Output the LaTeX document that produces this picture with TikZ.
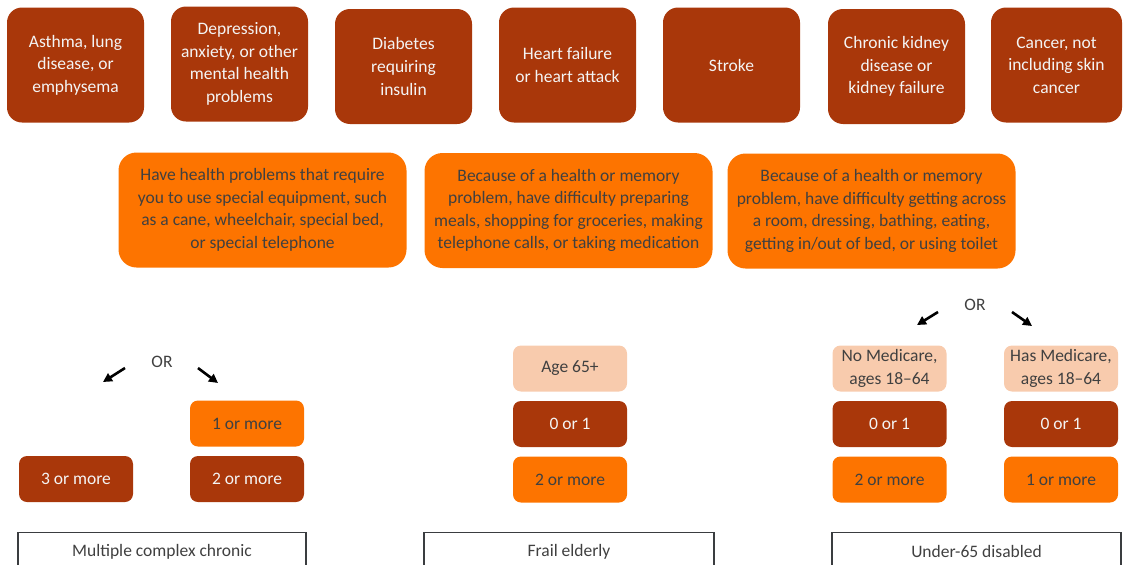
\documentclass[tikz,border=0pt]{standalone}
\usepackage{fontspec}
\setmainfont{Carlito}
\usetikzlibrary{arrows.meta}
\definecolor{darkbox}{HTML}{A9370A}
\definecolor{orangebox}{HTML}{FD7400}
\definecolor{peachbox}{HTML}{F8CBAD}
\definecolor{txtgrey}{HTML}{404040}
\definecolor{txtlight}{HTML}{F4F4F4}
\definecolor{framegrey}{HTML}{3A3D40}
\tikzset{
  every node/.style={font=\fontsize{17.5}{22.6}\selectfont, align=center, inner sep=0pt},
  topbox/.style={fill=darkbox, text=txtlight, rounded corners=15pt, minimum width=137pt, minimum height=115pt},
  midbox/.style={fill=orangebox, text=txtgrey, rounded corners=18pt, minimum width=288pt, minimum height=115pt},
  darksmall/.style={fill=darkbox, text=txtlight, rounded corners=8pt, minimum width=114pt, minimum height=46pt},
  orangesmall/.style={fill=orangebox, text=txtgrey, rounded corners=8pt, minimum width=114pt, minimum height=46pt},
  peachsmall/.style={fill=peachbox, text=txtgrey, rounded corners=8pt, minimum width=114pt, minimum height=46pt},
  groupbox/.style={draw=framegrey, line width=1.4pt, fill=white, text=txtgrey, minimum height=38pt, anchor=north},
  orlabel/.style={text=txtgrey},
  orarrow/.style={line width=2.6pt, -{Triangle[length=9pt,width=9pt]}}
}
\begin{document}
\begin{tikzpicture}[x=1pt,y=-1pt]
\useasboundingbox (0,0) rectangle (1125,565);
\clip (0,0) rectangle (1125,565);
% top row
\node[topbox] (t1) at (75.5,65) {Asthma, lung\\disease, or\\emphysema};
\node[topbox] (t2) at (239.5,64) {Depression,\\anxiety, or other\\mental health\\problems};
\node[topbox] (t3) at (403.5,66.5) {Diabetes\\requiring\\insulin};
\node[topbox] (t4) at (567.5,65) {Heart failure\\or heart attack};
\node[topbox] (t5) at (731.5,65) {Stroke};
\node[topbox] (t6) at (896.5,66.5) {Chronic kidney\\disease or\\kidney failure};
\node[topbox, minimum width=131pt] (t7) at (1056.5,65) {Cancer, not\\including skin\\cancer};
% middle row
\node[midbox] (m1) at (262.5,210) {Have health problems that require\\you to use special equipment, such\\as a cane, wheelchair, special bed,\\or special telephone};
\node[midbox] (m2) at (568.5,210.5) {Because of a health or memory\\problem, have difficulty preparing\\meals, shopping for groceries, making\\telephone calls, or taking medication};
\node[midbox] (m3) at (871.5,211) {Because of a health or memory\\problem, have difficulty getting across\\a room, dressing, bathing, eating,\\getting in/out of bed, or using toilet};
% left group
\node[orlabel] (orL) at (162,362) {OR};
\coordinate (aL1s) at (125,368);
\coordinate (aL1e) at (103,382);
\coordinate (aL2s) at (198,368);
\coordinate (aL2e) at (218,383);
\draw[orarrow] (aL1s) -- (aL1e);
\draw[orarrow] (aL2s) -- (aL2e);
\node[orangesmall] (l1) at (247,423.5) {1 or more};
\node[darksmall] (l2) at (76,479) {3 or more};
\node[darksmall] (l3) at (247,479) {2 or more};
% middle group
\node[peachsmall] (c1) at (570,368.5) {Age 65+};
\node[darksmall] (c2) at (570,424) {0 or 1};
\node[orangesmall] (c3) at (570,479.5) {2 or more};
% right group
\node[orlabel] (orR) at (975,305) {OR};
\coordinate (aR1s) at (938,312);
\coordinate (aR1e) at (917,325);
\coordinate (aR2s) at (1012,312);
\coordinate (aR2e) at (1032,326);
\draw[orarrow] (aR1s) -- (aR1e);
\draw[orarrow] (aR2s) -- (aR2e);
\node[peachsmall] (r1) at (889.5,368.5) {No Medicare,\\ages 18--64};
\node[peachsmall] (r2) at (1061,368.5) {Has Medicare,\\ages 18--64};
\node[darksmall] (r3) at (889.5,424) {0 or 1};
\node[darksmall] (r4) at (1061,424) {0 or 1};
\node[orangesmall] (r5) at (889.5,479.5) {2 or more};
\node[orangesmall] (r6) at (1061,479.5) {1 or more};
% bottom group labels
\node[groupbox, minimum width=288pt] (g1) at (162,532) {Multiple complex chronic};
\node[groupbox, minimum width=290pt] (g2) at (569,532) {Frail elderly};
\node[groupbox, minimum width=289pt] (g3) at (976.5,532) {Under-65 disabled};
\end{tikzpicture}
\end{document}
